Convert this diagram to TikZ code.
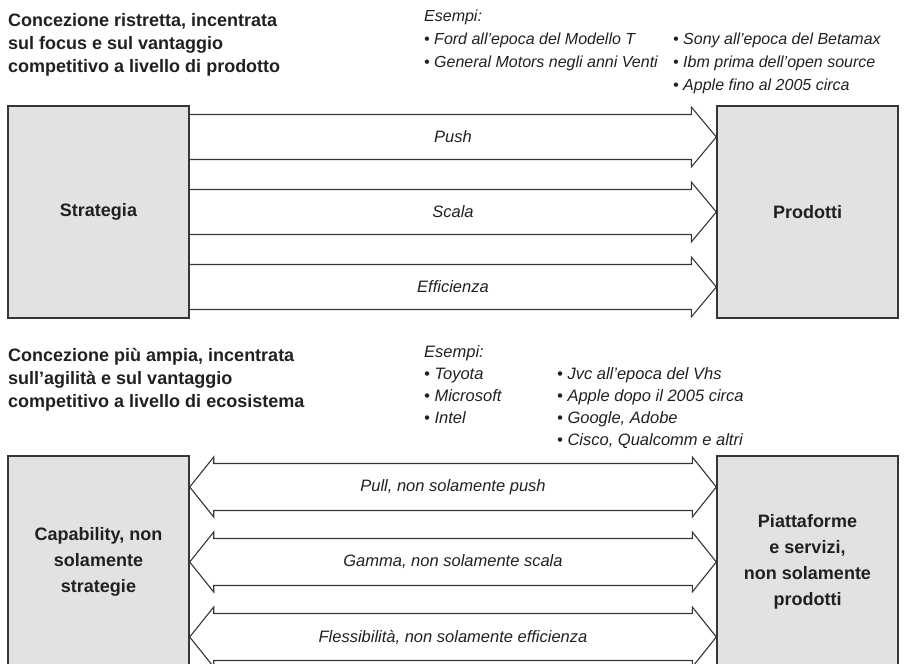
\documentclass[tikz,border=0pt]{standalone}
\usepackage{fontspec}
\setmainfont{Liberation Sans}
\usepackage{tikz}
\usetikzlibrary{calc}
\usepackage{xcolor}
\definecolor{boxgray}{HTML}{E1E2E4}
\definecolor{inkgray}{HTML}{363636}
\definecolor{txtgray}{HTML}{231F20}

\begin{document}
\begin{tikzpicture}[x=1pt,y=-1pt,
		panel/.style={draw=inkgray,line width=1.4pt,fill=boxgray,minimum width=181pt,minimum height=212pt,inner sep=0pt,align=center,text=txtgray,font=\bfseries\fontsize{18}{26}\selectfont},
		blockline/.style={draw=inkgray,line width=1.1pt,line join=miter},
		arrowlbl/.style={inner sep=0pt,text=txtgray,font=\itshape\fontsize{16.5}{20}\selectfont},
		heading/.style={anchor=north west,inner sep=0pt,align=left,text=txtgray,font=\bfseries\fontsize{18}{23}\selectfont},
		esempi/.style={anchor=north west,inner sep=0pt,align=left,text=txtgray,font=\itshape\fontsize{16}{23}\selectfont}]
		
		\useasboundingbox (0,0) rectangle (911,664);
		\clip (0,0) rectangle (911,664);
		
		% Narrow conception: titles and examples
		\node[heading] (conc1) at (8,10) {\strut Concezione ristretta, incentrata\\sul focus e sul vantaggio\\competitivo a livello di prodotto};
		\node[esempi] (ex1) at (424,5) {\strut Esempi:\\\textbullet\ Ford all'epoca del Modello T\\\textbullet\ General Motors negli anni Venti};
		\node[esempi] (ex2) at (673,28) {\strut\textbullet\ Sony all'epoca del Betamax\\\textbullet\ Ibm prima dell'open source\\\textbullet\ Apple fino al 2005 circa};
		
		% Strategy -> products
		\node[panel] (strat) at (98.5,212) {Strategia};
		\node[panel] (prod) at (807.5,212) {Prodotti};
		
		\foreach \dy/\txt [count=\i] in {-75/Push,0/Scala,75/Efficienza}{
			\draw[blockline] ($(strat.east)+(0,\dy-22.5)$) -- ($(prod.west)+(-25,\dy-22.5)$) -- ++(0,-7.5) -- ($(prod.west)+(0,\dy)$) -- ++(-25,30) -- ++(0,-7.5) -- ($(strat.east)+(0,\dy+22.5)$);
			\node[arrowlbl] (lbl\i) at ($(strat.east)!0.5!(prod.west)+(0,\dy)$) {\txt};
		}
		
		% Broad conception: titles and examples
		\node[heading] (conc2) at (8,345) {\strut Concezione più ampia, incentrata\\sull'agilità e sul vantaggio\\competitivo a livello di ecosistema};
		\node[esempi,font=\itshape\fontsize{16.5}{22}\selectfont] (ex3) at (424,342) {\strut Esempi:\\\textbullet\ Toyota\\\textbullet\ Microsoft\\\textbullet\ Intel};
		\node[esempi,font=\itshape\fontsize{16.5}{22}\selectfont] (ex4) at (557,364) {\strut\textbullet\ Jvc all'epoca del Vhs\\\textbullet\ Apple dopo il 2005 circa\\\textbullet\ Google, Adobe\\\textbullet\ Cisco, Qualcomm e altri};
		
		% Capabilities <-> platforms (two-way)
		\node[panel] (capab) at (98.5,562) {Capability, non\\solamente\\strategie};
		\node[panel] (piatt) at (807.5,562) {Piattaforme\\e servizi,\\non solamente\\prodotti};
		
		\foreach \dy/\txt [count=\i] in {-75/{Pull, non solamente push},0/{Gamma, non solamente scala},75/{Flessibilità, non solamente efficienza}}{
			\draw[blockline] ($(capab.east)+(0,\dy)$) -- ++(24,-30) -- ++(0,6.5) -- ($(piatt.west)+(-24,\dy-23.5)$) -- ++(0,-6.5) -- ($(piatt.west)+(0,\dy)$) -- ++(-24,30) -- ++(0,-6.5) -- ($(capab.east)+(24,\dy+23.5)$) -- ++(0,6.5) -- cycle;
			\node[arrowlbl] (dlbl\i) at ($(capab.east)!0.5!(piatt.west)+(0,\dy)$) {\txt};
		}
		
	\end{tikzpicture}
\end{document}
